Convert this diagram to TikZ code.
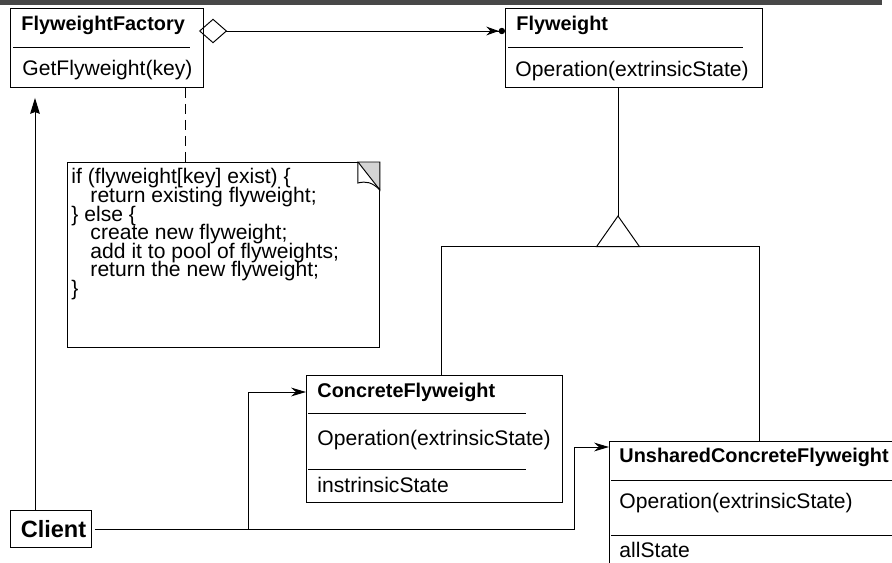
\documentclass[tikz,border=0pt]{standalone}
\usepackage{fontspec}
\setmainfont{Liberation Sans}
\usetikzlibrary{arrows.meta}
\definecolor{bandgray}{HTML}{484848}
\definecolor{foldgray}{HTML}{D4D4D4}
\newcommand\tightlines{\lineskiplimit=-10pt\relax}

\begin{document}
\begin{tikzpicture}[x=0.2mm, y=-0.2mm, line width=0.55pt,
    classbox/.style ={draw, rectangle, inner sep=0pt, anchor=north west},
    clsname/.style ={anchor=west, inner sep=0pt, font=\fontsize{11.3}{13}\selectfont\bfseries},
    member/.style ={anchor=west, inner sep=0pt, font=\fontsize{12}{14}\selectfont},
    uses/.style ={-{Stealth[length=8.5pt,width=5pt]}}]
   \useasboundingbox (0,0) rectangle (892,562);
   \clip (0,0) rectangle (892,562);
   \fill[white] (0,0) rectangle (892,562);
   \fill[bandgray] (0,0) rectangle (882,5);
   % classes
   \node[classbox, minimum width=38.6mm, minimum height=15.8mm] (factory) at (10,8) {};
   \node[clsname] (factoryname) at ([shift={(11,17)}]factory.north west) {FlyweightFactory};
   \draw ([shift={(3,39)}]factory.north west) -- ([shift={(180,39)}]factory.north west);
   \node[member] (factoryop) at ([shift={(12,62)}]factory.north west) {GetFlyweight(key)};
   \node[classbox, minimum width=51.4mm, minimum height=15.8mm] (flyweight) at (505,8) {};
   \node[clsname] (flyweightname) at ([shift={(11,17)}]flyweight.north west) {Flyweight};
   \draw ([shift={(3,39)}]flyweight.north west) -- ([shift={(238,39)}]flyweight.north west);
   \node[member] (flyweightop) at ([shift={(10,63)}]flyweight.north west) {Operation(extrinsicState)};
   \node[classbox, minimum width=51.2mm, minimum height=25.4mm] (concrete) at (306,375) {};
   \node[clsname] (concretename) at ([shift={(11,17)}]concrete.north west) {ConcreteFlyweight};
   \draw ([shift={(2,38)}]concrete.north west) -- ([shift={(220,38)}]concrete.north west);
   \node[member] (concreteop) at ([shift={(11,65)}]concrete.north west) {Operation(extrinsicState)};
   \draw ([shift={(2,94)}]concrete.north west) -- ([shift={(220,94)}]concrete.north west);
   \node[member] (concretestate) at ([shift={(11,110)}]concrete.north west) {instrinsicState};
   \node[classbox, minimum width=60mm, minimum height=28mm] (unshared) at (609,441) {};
   \node[clsname] (unsharedname) at ([shift={(10,16)}]unshared.north west) {UnsharedConcreteFlyweight};
   \draw ([shift={(2,39)}]unshared.north west) -- ([shift={(300,39)}]unshared.north west);
   \node[member] (unsharedop) at ([shift={(10,62)}]unshared.north west) {Operation(extrinsicState)};
   \draw ([shift={(2,94)}]unshared.north west) -- ([shift={(300,94)}]unshared.north west);
   \node[member] (unsharedstate) at ([shift={(10,109)}]unshared.north west) {allState};
   \node[classbox, minimum width=16.2mm, minimum height=7.4mm,
         font=\fontsize{13.4}{16}\selectfont\bfseries] (client) at (10,510) {\hspace*{1mm}Client};
   % note
   \node[classbox, minimum width=62.4mm, minimum height=37mm] (note) at (67,162) {};
   \filldraw[fill=foldgray] ([shift={(-22,0)}]note.north east) -- (note.north east)
      -- ([shift={(0,28)}]note.north east) -- cycle;
   \draw ([shift={(-22,0)}]note.north east) -- ++(0,21)
      .. controls +(8,-2) and +(-8,-8) .. ([shift={(0,28)}]note.north east);
   \node[member, anchor=north west, align=left,
         font=\fontsize{12}{10.6}\selectfont\tightlines] (code)
      at ([shift={(4,6)}]note.north west) {if (flyweight[key] exist) \{\\
      \hspace*{3.8mm}return existing flyweight;\\
      \} else \{\\
      \hspace*{3.8mm}create new flyweight;\\
      \hspace*{3.8mm}add it to pool of flyweights;\\
      \hspace*{3.8mm}return the new flyweight;\\
      \}};
   \coordinate (notefoot) at ([xshift=35mm]factory.south west);
   \draw[dash pattern=on 2mm off 1.2mm] (notefoot) -- (notefoot |- note.north);
   % aggregation
   \draw[{Diamond[open,length=16pt,width=14pt]}-{Stealth[length=7pt,width=5pt] Circle[length=3.6pt]}]
      ([shift={(-5,23)}]factory.north east) -- ([shift={(0,23)}]flyweight.north west);
   % generalization
   \coordinate (apex) at ([shift={(113,208)}]flyweight.north west);
   \coordinate (base) at ([shift={(113,238.7)}]flyweight.north west);
   \draw ([shift={(113,79)}]flyweight.north west) -- (apex);
   \draw (apex) -- ++(21.5,30.7) -- ++(-43,0) -- cycle;
   \draw ([shift={(7,0)}]concrete.north) |- (base) -| (unshared.north);
   % client
   \coordinate (clientfoot) at ([xshift=5mm]factory.south west);
   \draw[-{Stealth[length=9pt,width=5.5pt,inset=1pt]}, shorten >=2mm] (clientfoot |- client.north) -- (clientfoot);
   \draw[uses] ([xshift=0.6mm]client.east) -| ([shift={(-58,17)}]concrete.north west)
      -- ([shift={(0,17)}]concrete.north west);
   \draw[uses] ([xshift=0.6mm]client.east) -| ([shift={(-35,6)}]unshared.north west)
      -- ([shift={(0,6)}]unshared.north west);
\end{tikzpicture}
\end{document}
